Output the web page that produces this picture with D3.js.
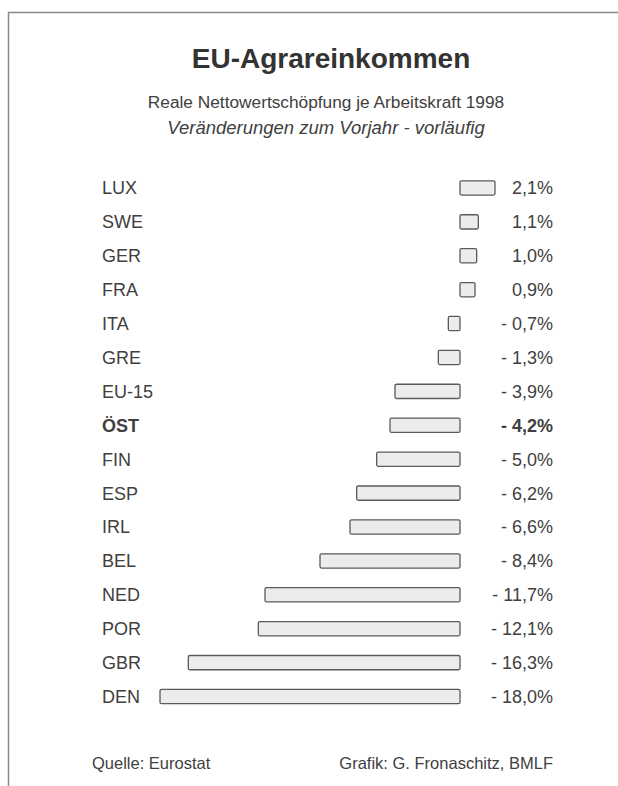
<!DOCTYPE html>
<html>
<head>
<meta charset="utf-8">
<script src="https://cdn.jsdelivr.net/npm/d3@7"></script>
<style>
  body { margin: 0; background: #fff; }
  text { font-family: "Liberation Sans", Arial, sans-serif; fill: #404040; }
</style>
</head>
<body>
<div id="chart"></div>
<script>
// data
var countries = ["LUX", "SWE", "GER", "FRA", "ITA", "GRE", "EU-15", "ÖST", "FIN", "ESP", "IRL", "BEL", "NED", "POR", "GBR", "DEN"];
var changes = [2.1, 1.1, 1.0, 0.9, -0.7, -1.3, -3.9, -4.2, -5.0, -6.2, -6.6, -8.4, -11.7, -12.1, -16.3, -18.0];
var highlight = "ÖST";

var title = "EU-Agrareinkommen";
var subtitle = "Reale Nettowertschöpfung je Arbeitskraft 1998";
var subtitle2 = "Veränderungen zum Vorjahr - vorläufig";
var source = "Quelle: Eurostat";
var credit = "Grafik: G. Fronaschitz, BMLF";

var svgWidth = 618;
var svgHeight = 786;

var svg = d3.select("#chart")
  .append("svg")
  .attr("width", svgWidth)
  .attr("height", svgHeight);

// frame: only top and left edges are visible
svg.append("path")
  .attr("d", "M8.5,786 V12.5 H618")
  .attr("fill", "none")
  .attr("stroke", "#8a8a8a")
  .attr("stroke-width", 1.5);

var de = d3.formatLocale({ decimal: ",", thousands: ".", grouping: [3], currency: ["", "€"] });
var fmt = de.format(".1f");
function label(v) {
  return (v < 0 ? "- " + fmt(-v) : fmt(v)) + "%";
}

svg.append("text")
  .attr("x", 331)
  .attr("y", 68)
  .attr("text-anchor", "middle")
  .attr("font-size", "28px")
  .attr("font-weight", "bold")
  .style("fill", "#333")
  .text(title);

svg.append("text")
  .attr("x", 326)
  .attr("y", 108)
  .attr("text-anchor", "middle")
  .attr("font-size", "17.3px")
  .text(subtitle);

svg.append("text")
  .attr("x", 326)
  .attr("y", 134)
  .attr("text-anchor", "middle")
  .attr("font-size", "18.5px")
  .attr("font-style", "italic")
  .text(subtitle2);

var xScale = d3.scaleLinear()
  .domain([-18, 0])
  .range([160, 460]);

var yScale = d3.scaleBand()
  .domain(countries)
  .range([171, 713.5])
  .paddingInner(0.58)
  .paddingOuter(0.29);

var rows = svg.selectAll(".row")
  .data(countries)
  .enter()
  .append("g")
  .attr("class", "row");

rows.append("rect")
  .attr("x", (d, i) => xScale(Math.min(0, changes[i])))
  .attr("y", d => yScale(d))
  .attr("width", (d, i) => Math.abs(xScale(changes[i]) - xScale(0)))
  .attr("height", yScale.bandwidth())
  .attr("rx", 1.5)
  .attr("fill", "#ececec")
  .attr("stroke", "#5a5a5a")
  .attr("stroke-width", 1.3);

rows.append("text")
  .attr("x", 102)
  .attr("y", d => yScale(d) + yScale.bandwidth() / 2)
  .attr("dy", "0.36em")
  .attr("font-size", "18px")
  .attr("font-weight", d => d === highlight ? "bold" : null)
  .text(d => d);

rows.append("text")
  .attr("x", 553)
  .attr("y", d => yScale(d) + yScale.bandwidth() / 2)
  .attr("dy", "0.36em")
  .attr("text-anchor", "end")
  .attr("font-size", "18px")
  .attr("font-weight", d => d === highlight ? "bold" : null)
  .text((d, i) => label(changes[i]));

svg.append("text")
  .attr("x", 92)
  .attr("y", 769)
  .attr("font-size", "16.5px")
  .text(source);

svg.append("text")
  .attr("x", 553)
  .attr("y", 769)
  .attr("text-anchor", "end")
  .attr("font-size", "16.5px")
  .text(credit);
</script>
</body>
</html>
